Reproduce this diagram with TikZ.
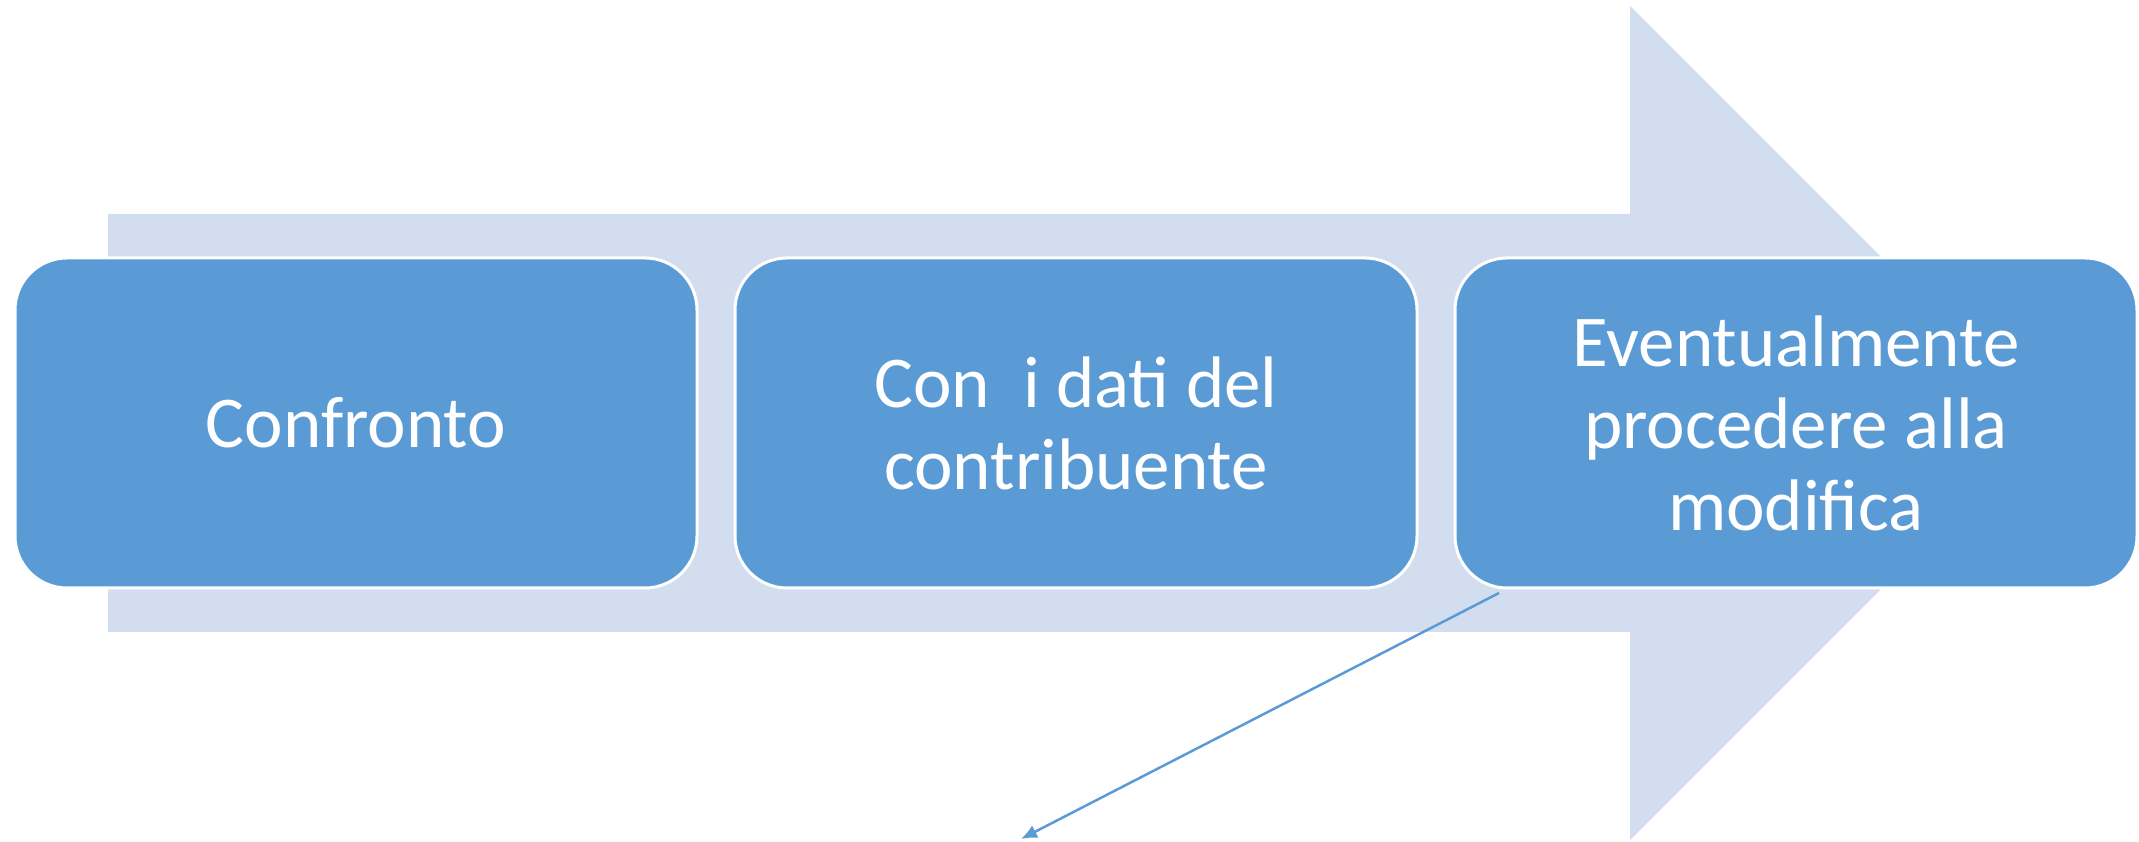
\documentclass[tikz,border=0pt]{standalone}
\usepackage{fontspec}
\setmainfont{Carlito}
\usetikzlibrary{arrows.meta}
\usetikzlibrary{positioning}
\definecolor{accentblue}{RGB}{91,155,213}
\definecolor{bandblue}{RGB}{210,222,239}

\begin{document}
\begin{tikzpicture}[x=1pt,y=1pt,node distance=38pt and 38pt,
	stage/.style={draw=white,line width=3pt,fill=accentblue,rounded corners=52pt,
		minimum width=682pt,minimum height=330pt,outer sep=0pt,align=center,
		text=white,font=\fontsize{73}{82}\selectfont}]
		\useasboundingbox (0,0) rectangle (2139,842);
		\fill [bandblue] (108,210) -- (1630,210) -- (1630,2) -- (2047,419)
			-- (1630,836) -- (1630,628) -- (108,628) -- cycle;

		\node [stage] (confronto) at (356,419) {Confronto};
		\node [stage,right=of confronto] (dati) {Con\ \ i dati del\\contribuente};
		\node [stage,right=of dati] (modifica) {Eventualmente\\procedere alla\\modifica};

		\coordinate (end) at (1021,3);
		\draw [accentblue,line width=2.5pt,-{Latex[length=16pt,width=14pt]}]
			([xshift=44pt,yshift=-5pt]modifica.south west) -- (end);
\end{tikzpicture}
\end{document}
